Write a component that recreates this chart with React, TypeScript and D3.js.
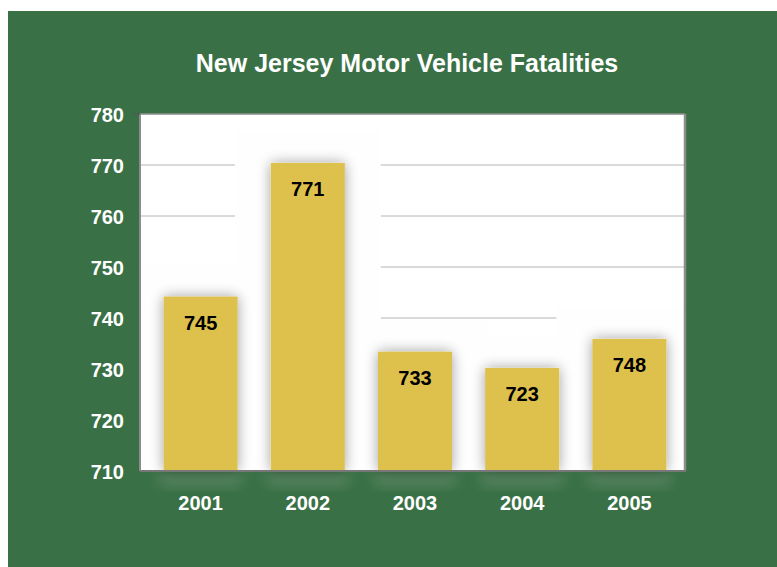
import React from "react";
import * as d3 from "d3";

const years = ["2001", "2002", "2003", "2004", "2005"];
const barHeights = [744.2, 770.4, 733.4, 730.2, 735.9];
const barLabels = ["745", "771", "733", "723", "748"];
const yTicks = [710, 720, 730, 740, 750, 760, 770, 780];
const gridValues = [740, 750, 760, 770];
const title = "New Jersey Motor Vehicle Fatalities";

const W = 777;
const H = 567;
const plot = { left: 140, right: 685, top: 114, bottom: 471 };
const FONT = "'Liberation Sans', Arial, Helvetica, sans-serif";

export default function App() {
  const y = d3.scaleLinear().domain([710, 780]).range([plot.bottom, plot.top]);
  const x = d3
    .scaleBand<string>()
    .domain(years)
    .range([147, 683])
    .paddingInner(0.31)
    .paddingOuter(0.155);
  const bw = x.bandwidth();
  const haloX = 36;
  const haloTop = 32;

  return (
    <svg
      width={W}
      height={H}
      style={{ position: "absolute", left: 0, top: 0 }}
    >
      <defs>
        <filter id="shadow" x="-50%" y="-20%" width="200%" height="140%">
          <feGaussianBlur in="SourceAlpha" stdDeviation="7" />
          <feComponentTransfer>
            <feFuncA type="linear" slope="0.38" />
          </feComponentTransfer>
          <feMerge>
            <feMergeNode />
            <feMergeNode in="SourceGraphic" />
          </feMerge>
        </filter>
        <filter id="soft" x="-30%" y="-50%" width="160%" height="200%">
          <feGaussianBlur stdDeviation="7" />
        </filter>
        <clipPath id="plotclip">
          <rect
            x={plot.left}
            y={plot.top}
            width={plot.right - plot.left}
            height={plot.bottom - plot.top}
          />
        </clipPath>
      </defs>
      <rect x={8} y={11} width={W - 8} height={H - 11} fill="#3A7045" />

      {/* soft light shadow below axis */}
      {years.map((yr) => (
        <rect
          key={"gs" + yr}
          x={(x(yr) as number) - 4}
          y={plot.bottom}
          width={bw + 8}
          height={14}
          fill="#c8d6c8"
          opacity={0.22}
          filter="url(#soft)"
        />
      ))}

      <rect
        x={plot.left}
        y={plot.top}
        width={plot.right - plot.left}
        height={plot.bottom - plot.top}
        fill="#ffffff"
      />

      {/* gridlines */}
      {gridValues.map((v) => (
        <line
          key={"g" + v}
          x1={plot.left}
          x2={plot.right}
          y1={y(v)}
          y2={y(v)}
          stroke="#b4b4b4"
          strokeWidth={1}
        />
      ))}

      {/* halos covering gridlines */}
      <g clipPath="url(#plotclip)">
        {years.map((yr, i) => (
          <rect
            key={"h" + yr}
            x={(x(yr) as number) - haloX}
            y={y(barHeights[i]) - haloTop}
            width={bw + haloX * 2}
            height={plot.bottom - y(barHeights[i]) + haloTop}
            fill="#fefefe"
          />
        ))}
      </g>

      {/* bars */}
      {years.map((yr, i) => (
        <rect
          key={"b" + yr}
          x={x(yr)}
          y={y(barHeights[i])}
          width={bw}
          height={plot.bottom - y(barHeights[i])}
          fill="#DEC04E"
          filter="url(#shadow)"
        />
      ))}

      {/* plot border */}
      <line x1={plot.left} x2={plot.right} y1={plot.top} y2={plot.top} stroke="#8c8c8c" strokeWidth={1.5} />
      <line x1={plot.left} x2={plot.left} y1={plot.top} y2={plot.bottom} stroke="#8c8c8c" strokeWidth={2} />
      <line x1={plot.right} x2={plot.right} y1={plot.top} y2={plot.bottom} stroke="#8c8c8c" strokeWidth={2.5} />
      <line x1={plot.left} x2={plot.right + 1} y1={plot.bottom} y2={plot.bottom} stroke="#777777" strokeWidth={2} />
      <line x1={plot.left - 7} x2={plot.left} y1={y(780)} y2={y(780)} stroke="#555" strokeWidth={1} />

      {/* bar labels */}
      {years.map((yr, i) => (
        <text
          key={"l" + yr}
          x={(x(yr) as number) + bw / 2}
          y={y(barHeights[i]) + 33}
          textAnchor="middle"
          fontFamily={FONT}
          fontWeight="bold"
          fontSize={20}
          fill="#000"
        >
          {barLabels[i]}
        </text>
      ))}

      {/* y tick labels */}
      {yTicks.map((t) => (
        <text
          key={"y" + t}
          x={124}
          y={y(t) + 7.5}
          textAnchor="end"
          fontFamily={FONT}
          fontWeight="bold"
          fontSize={20}
          fill="#fff"
        >
          {t}
        </text>
      ))}

      {/* x labels */}
      {years.map((yr) => (
        <text
          key={"x" + yr}
          x={(x(yr) as number) + bw / 2}
          y={510}
          textAnchor="middle"
          fontFamily={FONT}
          fontWeight="bold"
          fontSize={20}
          fill="#fff"
        >
          {yr}
        </text>
      ))}

      <text
        x={407}
        y={72}
        textAnchor="middle"
        fontFamily={FONT}
        fontWeight="bold"
        fontSize={25}
        fill="#fff"
      >
        {title}
      </text>
    </svg>
  );
}
